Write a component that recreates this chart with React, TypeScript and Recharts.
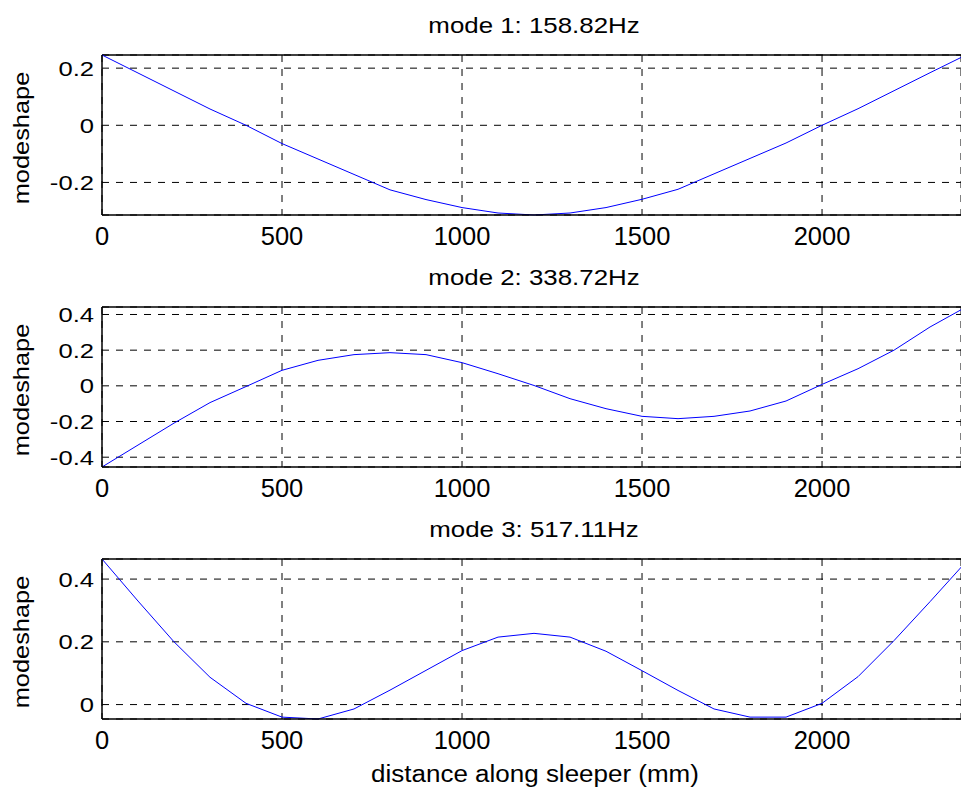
import { CartesianGrid, Line, LineChart, ReferenceLine, XAxis, YAxis } from "recharts";

// positions along the sleeper (mm)
const distance = [
  0, 100, 200, 300, 400, 500, 600, 700, 800, 900, 1000, 1100, 1200,
  1300, 1400, 1500, 1600, 1700, 1800, 1900, 2000, 2100, 2200, 2300, 2400,
];

const mode1 = [
  0.246, 0.183, 0.12, 0.057, 0.0, -0.064, -0.118, -0.172, -0.226, -0.26, -0.288, -0.307, -0.314,
  -0.307, -0.288, -0.259, -0.224, -0.17, -0.116, -0.062, 0.0, 0.058, 0.121, 0.184, 0.246,
];

const mode2 = [
  -0.455, -0.332, -0.209, -0.094, -0.004, 0.087, 0.143, 0.175, 0.186, 0.175, 0.13, 0.068, 0.002,
  -0.072, -0.128, -0.171, -0.184, -0.171, -0.141, -0.085, 0.008, 0.096, 0.2, 0.33, 0.442,
];

const mode3 = [
  0.464, 0.33, 0.2, 0.087, 0.004, -0.04, -0.046, -0.014, 0.046, 0.109, 0.172, 0.215, 0.227,
  0.215, 0.17, 0.108, 0.045, -0.014, -0.04, -0.04, 0.004, 0.089, 0.204, 0.328, 0.455,
];

const modeTitles = ["mode 1: 158.82Hz", "mode 2: 338.72Hz", "mode 3: 517.11Hz"];
const xTicks = [0, 500, 1000, 1500, 2000];
const yTicks1 = [-0.2, 0, 0.2];
const yTicks2 = [-0.4, -0.2, 0, 0.2, 0.4];
const yTicks3 = [0, 0.2, 0.4];

const FONT = "'Liberation Sans', Arial, Helvetica, sans-serif";
// the figure is cut off on the right, the axis really runs to 2400
const X_VISIBLE = 2386;
const PLOT_TOP = 55;
const PLOT_HEIGHT = 160;
const AXIS_WIDTH = 102;

function XTick({ x, y, payload }: any) {
  return (
    <text
      transform={`translate(${x},${y + 30}) scale(1.02,1)`}
      textAnchor="middle"
      fontFamily={FONT}
      fontSize={25}
      fill="#000"
    >
      {payload.value}
    </text>
  );
}

function YTick({ x, y, payload }: any) {
  return (
    <text
      transform={`translate(${x - 8},${y + 7.5}) scale(1.22,1)`}
      textAnchor="end"
      fontFamily={FONT}
      fontSize={21}
      fill="#000"
    >
      {payload.value}
    </text>
  );
}

interface ModePlotProps {
  title: string;
  values: number[];
  yTicks: number[];
  height: number;
  xLabel?: string;
}

function ModePlot({ title, values, yTicks, height, xLabel }: ModePlotProps) {
  const rows = distance.map((d, i) => ({ distance: d, value: values[i] }));
  const yMin = Math.min(...values);
  const yMax = Math.max(...values);
  const bottomSpace = height - PLOT_TOP - PLOT_HEIGHT;

  return (
    <LineChart
      width={961}
      height={height}
      data={rows}
      margin={{ top: PLOT_TOP, right: 0, bottom: 0, left: 0 }}
    >
      <CartesianGrid stroke="#000" strokeDasharray="7 7" />
      <XAxis
        dataKey="distance"
        type="number"
        domain={[0, X_VISIBLE]}
        allowDataOverflow
        ticks={xTicks}
        height={bottomSpace}
        tickSize={0}
        tickMargin={0}
        tickLine={false}
        tick={XTick}
        axisLine={{ stroke: "#000", strokeWidth: 1.5 }}
      />
      <YAxis
        type="number"
        domain={[yMin, yMax]}
        ticks={yTicks}
        width={AXIS_WIDTH}
        tickSize={0}
        tickMargin={0}
        tickLine={false}
        tick={YTick}
        axisLine={{ stroke: "#000", strokeWidth: 1.5 }}
      />
      <ReferenceLine y={yMax} stroke="#000" strokeWidth={1.5} />
      <Line
        type="linear"
        dataKey="value"
        stroke="#0000ff"
        strokeWidth={1}
        dot={false}
        activeDot={false}
        isAnimationActive={false}
      />
      <text
        transform="translate(534,32.7) scale(1.15,1)"
        textAnchor="middle"
        fontFamily={FONT}
        fontSize={22.5}
        fill="#000"
      >
        {title}
      </text>
      <text
        transform={`translate(29,${PLOT_TOP + PLOT_HEIGHT / 2 + 3}) rotate(-90) scale(1.18,1)`}
        textAnchor="middle"
        fontFamily={FONT}
        fontSize={21.5}
        fill="#000"
      >
        modeshape
      </text>
      {xLabel && (
        <text
          transform={`translate(535,${PLOT_TOP + PLOT_HEIGHT + 62.5}) scale(1.13,1)`}
          textAnchor="middle"
          fontFamily={FONT}
          fontSize={23}
          fill="#000"
        >
          {xLabel}
        </text>
      )}
    </LineChart>
  );
}

export default function App() {
  return (
    <div style={{ position: "absolute", left: 0, top: 0, width: 961, height: 788, background: "#fff" }}>
      <ModePlot title={modeTitles[0]} values={mode1} yTicks={yTicks1} height={252} />
      <ModePlot title={modeTitles[1]} values={mode2} yTicks={yTicks2} height={252} />
      <ModePlot
        title={modeTitles[2]}
        values={mode3}
        yTicks={yTicks3}
        height={284}
        xLabel="distance along sleeper (mm)"
      />
    </div>
  );
}
